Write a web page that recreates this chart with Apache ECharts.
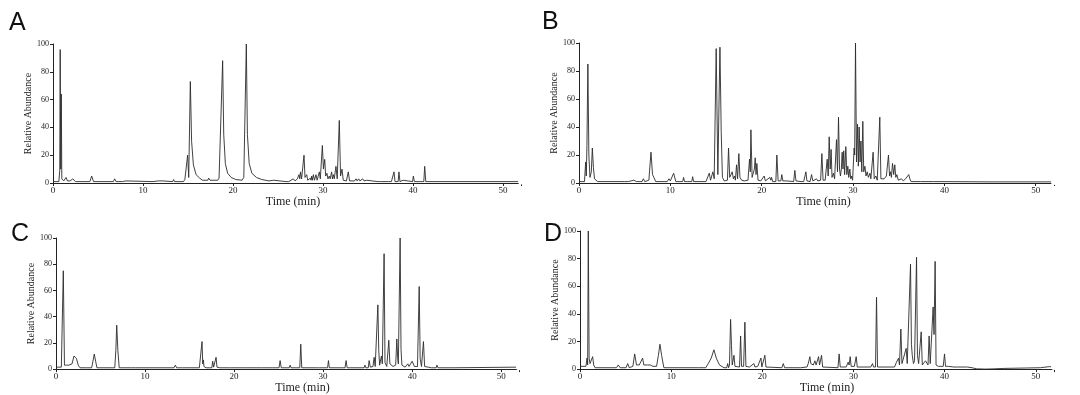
<!DOCTYPE html>
<html>
<head>
<meta charset="utf-8">
<script src="https://cdn.jsdelivr.net/npm/echarts@6/dist/echarts.min.js"></script>
<style>
html,body{margin:0;padding:0;background:#fff;}
#chart{width:1080px;height:395px;}
</style>
</head>
<body>
<div id="chart"></div>
<script>
// Panel labels and axis texts
const panelLabels = ['A', 'B', 'C', 'D'];
const xTitle = 'Time (min)';
const yTitle = 'Relative Abundance';

// Chromatogram traces: [time (min), relative abundance]
const traceA = [
[0,1],[0.65,1],[0.75,9],[0.8,96],[0.86,10],[0.92,64],[0.98,3],[1.2,1.5],[1.45,4],[1.6,1.5],[1.9,1.5],[2.2,3],[2.5,1],
[4.1,1],[4.3,5],[4.5,1],[6.7,1],[6.85,3],[7.0,1],[7.7,1],[7.8,1.8],[7.9,1],[8.1,1.5],[8.2,1],
[11.1,1],[11.2,1.5],[11.3,1],[11.7,1.5],[11.8,1],[12.2,1.5],[12.3,1],[13.3,1],[13.4,2.5],[13.5,1],
[14.5,1],[14.65,2.5],[14.8,2],[14.96,20],[15.08,4],[15.26,73],[15.4,30],[15.6,13],[15.9,6],[16.3,3.5],[16.6,2],
[17.2,2],[17.3,3.5],[17.45,2],[18.3,2],[18.45,3.5],[18.6,2.5],
[18.85,88],[18.97,35],[19.15,14],[19.4,7],[19.8,4],[20.3,2.5],[21.0,2],[21.2,4],[21.35,3],
[21.48,100],[21.6,35],[21.8,14],[22.1,7],[22.6,4],[23.2,2.5],[24,1.5],
[24.5,2],[24.7,1],[25.9,1],[26.0,2],[26.2,1],[26.7,3],[26.9,1.5],[27.15,3],[27.33,6],[27.42,3],[27.5,8],[27.62,3],
[27.89,20],[28.0,4],[28.19,6],[28.3,2],[28.5,2],[28.6,3.5],[28.68,2],[28.74,5],[28.83,2],[28.93,6],[29.05,2],
[29.22,6],[29.35,2],[29.59,8],[29.7,3],[29.93,27],[30.05,10],[30.19,17],[30.3,5],[30.44,7],[30.55,3],[30.7,5],
[30.8,3],[30.96,8],[31.05,3],[31.15,6],[31.25,3],[31.44,12],[31.58,3],[31.81,45],[31.95,5],[32.11,10],[32.25,2],
[32.6,1.5],[32.81,8],[32.95,1.5],[33.5,1.5],[33.67,3],[33.8,1.5],[33.96,3],[34.1,1.5],[34.3,1.5],[34.41,3],
[34.55,1.5],[34.85,2],[35,1],[36.1,1],[36.26,2],[36.4,1],[37.3,1],[37.44,2],[37.6,1],[37.8,1],[37.89,8],[38.0,1],
[38.35,1],[38.44,8],[38.55,1],[38.9,2],[39.0,1],[39.95,1],[40.04,5],[40.15,1],[41.2,1],[41.3,12],[41.42,1],[52,1]
];

const traceB = [
[0,1],[0.6,1],[0.73,15],[0.8,5],[0.87,27],[0.97,85],[1.08,20],[1.2,4],[1.35,8],[1.46,25],[1.58,11],[1.7,3],[1.9,2.5],[2.05,1],
[5.0,1],[5.2,1.8],[5.4,1],[5.7,1.5],[6.0,2],[6.3,1],[6.9,1],[7.05,3],[7.2,1],[7.65,2],[7.88,22],[8.05,6],[8.2,4],[8.4,1],
[9.3,1],[9.5,2],[9.65,1],[9.85,3],[10.0,1.5],[10.36,7],[10.6,1],[11.35,1],[11.45,4],[11.55,1],[11.85,1],[11.95,2],
[12.05,1],[12.35,1],[12.44,4.5],[12.55,1],
[13.9,1],[14.26,7],[14.4,2],[14.66,8],[14.8,3],[15.02,96],[15.2,6],[15.43,97],[15.57,36],[15.7,4],[15.9,1.5],
[16.25,2],[16.37,25],[16.5,4],[16.67,3],[16.77,8],[16.9,3],[17.03,5],[17.12,2],[17.25,13],[17.36,3],[17.5,21],
[17.62,4],[17.8,2],[18.1,1.5],[18.3,2],[18.5,2],[18.67,17],[18.75,8],[18.82,38],[18.95,4],[19.1,4],[19.2,10],
[19.29,18],[19.38,6],[19.47,14],[19.6,2],[19.9,1.5],[20.1,2],[20.27,5],[20.4,1.5],[20.6,1.5],[20.9,4],[21.0,2],
[21.08,4],[21.2,1],[21.55,1],[21.66,20],[21.8,1.5],[22.1,1.5],[22.2,6],[22.32,1.5],[22.7,1.5],[23.5,1],[23.63,9],
[23.75,1.5],[24.3,1],[24.5,2],[24.6,1],[24.84,8],[24.95,1.5],[25.3,1],[25.46,6],[25.6,1.5],[26.0,3],[26.15,1.5],
[26.45,2],[26.59,21],[26.72,2],[26.95,2],[27.17,17],[27.28,5],[27.39,33],[27.5,10],[27.6,24],[27.7,4],[27.85,7],
[27.98,3],[28.19,31],[28.3,8],[28.41,47],[28.52,10],[28.62,5],[28.72,10],[28.81,22],[28.9,10],[28.98,23],[29.08,6],
[29.21,26],[29.32,6],[29.43,12],[29.53,4],[29.65,10],[29.75,3],[29.85,5],[29.95,2],[30.12,25],[30.18,20],
[30.27,100],[30.38,15],[30.49,42],[30.58,12],[30.67,40],[30.77,15],[30.86,30],[30.96,8],[31.07,44],[31.17,8],
[31.3,12],[31.42,5],[31.55,8],[31.68,4],[31.85,7],[31.95,3],[32.05,3],[32.2,22],[32.32,3],[32.5,5],[32.65,2],
[32.93,47],[33.05,3],[33.4,3],[33.65,5],[33.88,20],[34.0,5],[34.1,8],[34.2,4],[34.32,14],[34.45,6],[34.57,13],
[34.68,4],[34.8,6],[34.95,2],[35.3,3],[35.5,1.5],[35.75,3],[35.9,2],[36.1,6],[36.22,3],[36.35,1],[37.4,1],
[37.5,2],[37.6,1],[38.8,1],[38.9,2],[39.0,1],[39.4,1],[39.5,1.8],[39.6,1],[45,0.8],[52,0.8]
];

const traceC = [
[0,1.5],[0.6,1.5],[0.72,3],[0.82,75],[0.95,3],[1.2,3],[1.3,1.5],[1.45,3],[1.6,2],[1.8,4],[2.02,10],[2.3,8],[2.5,3],
[2.7,1],[3.4,1],[3.5,2],[3.6,1],[4.0,1],[4.15,6],[4.3,11.5],[4.45,6],[4.6,1],
[6.6,1],[6.72,14],[6.82,33.5],[6.95,14],[7.1,1],[8.5,1],[8.7,2.5],[8.9,1],[13.25,1],[13.4,3],[13.55,1],
[14.2,1],[14.3,2],[14.4,1],[14.6,1],[14.7,2],[14.8,1],[16.1,1],[16.2,2],[16.3,1],[16.4,21],[16.48,4],[16.55,7],
[16.62,2],[16.75,3],[16.85,1],[17.5,1],[17.6,6],[17.7,1.5],[17.9,1.5],[17.98,9],[18.08,1.5],[18.4,1],[18.5,2],
[18.6,1],[19.6,1],[19.7,1.5],[19.8,1],[20.0,1],[20.1,1.5],[20.2,1],[21.1,1],[21.2,2],[21.3,1],[23.1,1],[23.2,2.5],
[23.3,1],[25.05,1],[25.17,6.5],[25.3,1],[26.2,1],[26.3,3],[26.4,1],[27.38,1],[27.49,19],[27.6,1],[28.3,1],[28.4,2],
[28.5,1],[29.35,1],[29.47,2],[29.6,1],[30.5,1],[30.6,6.5],[30.7,1],[31.8,1],[31.9,2],[32.0,1],[32.46,1],[32.58,6.5],
[32.7,1],[32.9,2],[33.0,1],[34.6,1],[34.7,3],[34.8,1],[35.07,1],[35.17,6.5],[35.3,1.5],[35.6,2],[35.73,9],[35.85,2],
[36.05,3],[36.15,49],[36.25,14],[36.35,3],[36.55,10],[36.65,4],[36.85,88],[36.95,5],[37.15,2],[37.38,22],[37.5,4],
[37.7,5],[37.85,2],[38.0,3],[38.15,3],[38.28,23],[38.38,8],[38.45,4],[38.65,100],[38.75,15],[38.85,3],[39.2,1.5],
[39.51,4],[39.65,2],[39.85,3],[40.0,6],[40.1,5],[40.25,2],[40.6,2],[40.79,63],[40.9,8],[41.05,2],[41.27,21],
[41.4,2],[41.8,1.5],[42.0,2],[42.15,1],[42.7,1],[42.78,3],[42.9,1],[43.8,1],[43.9,2],[44.0,1],[44.6,1],[44.68,1.5],
[44.8,1],[52,1.5]
];

const traceD = [
[0,2],[0.65,2],[0.77,8],[0.84,3],[0.91,100],[1.0,8],[1.1,4],[1.25,3],[1.39,9],[1.5,3],[1.65,1],[4.0,1],[4.2,3],
[4.4,1],[5.05,1],[5.23,4],[5.4,1],[5.8,2],[6.0,11],[6.2,3],[6.5,3],[6.7,4],[6.87,8],[7.0,3],[7.4,3],[7.7,3],
[7.86,4],[8.0,2],[8.4,2],[8.6,10],[8.77,18],[8.95,10],[9.2,1],[12.6,1],[12.8,1.5],[13.0,1],[13.8,1],[14.07,4],
[14.18,5],[14.4,8],[14.69,14],[14.95,8],[15.3,3],[15.8,1],[16.1,1],[16.2,4],[16.3,1],[16.4,3],[16.52,36],
[16.62,17],[16.7,3],[16.8,2],[16.89,10],[17.0,2],[17.5,1.5],[17.62,24],[17.72,2],[17.95,2],[18.09,34],[18.2,2],
[18.6,1.5],[19.08,4],[19.2,1.5],[19.5,2],[19.6,1],[19.85,8],[19.95,1.5],[20.1,1.5],[20.28,10],[20.4,1.5],
[22.15,1],[22.3,4],[22.45,1],[24.2,1],[24.9,1.5],[25.04,4],[25.12,3],[25.22,9],[25.32,4],[25.5,5],[25.6,3],
[25.77,6],[25.9,3],[26.17,9],[26.28,3],[26.5,10],[26.62,1.5],[28.3,1],[28.43,11],[28.55,1.5],[29.2,1.5],
[29.42,5],[29.52,3],[29.64,9],[29.75,2],[30.1,2],[30.3,9],[30.42,1.5],[31.9,1.5],[32.09,4],[32.2,1.5],[32.42,1.5],
[32.53,52],[32.64,1.5],[34.5,1.5],[34.72,5],[34.82,4],[34.95,8],[35.05,3],[35.2,29],[35.32,4],[35.5,3],[35.78,15],
[35.9,4],[36.1,4],[36.26,76],[36.36,18],[36.45,10],[36.58,4],[36.7,6],[36.92,81],[37.02,10],[37.15,4],[37.3,3],
[37.43,27],[37.55,3],[37.75,4],[37.9,6],[38.0,5],[38.1,6],[38.18,3],[38.3,24],[38.42,4],[38.55,4],[38.74,45],
[38.84,25],[38.96,78],[39.06,3],[39.3,2],[39.45,3],[39.6,2],[39.75,3],[39.85,2],[39.99,11],[40.1,2],[40.4,2],
[40.6,1.5],[41.0,1.5],[41.2,2],[41.4,1.5],[42.5,1.5],[43.0,1],[43.5,0.2],[44.5,0],[45.5,0.2],[46.5,0.5],[49,0.8],
[50.5,1],[51.5,1.8],[52,1.5]
];

const traces = [traceA, traceB, traceC, traceD];
const xTicks = [0, 10, 20, 30, 40, 50];
const xMax = 52;
const yTicks = [0, 20, 40, 60, 80, 100];

// Layout (pixels)
const grids = [
  {left: 53, top: 44, width: 468, height: 139},
  {left: 579, top: 43, width: 475, height: 140},
  {left: 56, top: 238, width: 463, height: 134},
  {left: 580, top: 231, width: 474, height: 140}
];
const labelPos = [[9, 11], [542, 10], [11, 222], [544, 222]];
const titleShift = [12, 14, 30, 20];
const titleGap = [7, 8, 10, 9];

const serif = '"Liberation Serif", "DejaVu Serif", serif';
const ink = '#222';

const chart = echarts.init(document.getElementById('chart'), null, {renderer: 'canvas'});
const option = {
  animation: false,
  backgroundColor: '#fff',
  grid: grids.map(g => Object.assign({containLabel: false}, g)),
  xAxis: grids.map((g, i) => ({
    gridIndex: i, type: 'value', min: 0, max: xMax, interval: 10,
    name: xTitle, nameLocation: 'middle', nameGap: titleGap[i],
    nameTextStyle: {fontFamily: serif, fontSize: 12, color: ink, verticalAlign: 'top', padding: [0, 0, 0, titleShift[i]]},
    axisLine: {show: true, lineStyle: {color: ink, width: 1}},
    axisTick: {show: true, length: 3, lineStyle: {color: ink}},
    axisLabel: {fontFamily: serif, fontSize: 9, color: ink, margin: 3,
      formatter: v => xTicks.includes(v) ? String(v) : ''},
    splitLine: {show: false}
  })),
  yAxis: grids.map((g, i) => ({
    gridIndex: i, type: 'value', min: yTicks[0], max: yTicks[yTicks.length - 1], interval: 20,
    name: yTitle, nameLocation: 'middle', nameGap: 17,
    nameTextStyle: {fontFamily: serif, fontSize: 10, color: ink},
    axisLine: {show: true, lineStyle: {color: ink, width: 1}},
    axisTick: {show: true, length: 3, lineStyle: {color: ink}},
    axisLabel: {fontFamily: serif, fontSize: 8, color: ink, margin: 4},
    splitLine: {show: false}
  })),
  series: traces.map((t, i) => ({
    type: 'line', xAxisIndex: i, yAxisIndex: i, data: t,
    showSymbol: false, symbol: 'none', sampling: null, clip: false,
    lineStyle: {color: '#2b2b2b', width: 0.9},
    silent: true,
    markPoint: {
      silent: true, symbol: 'emptyCircle', symbolSize: 4,
      itemStyle: {color: '#fff', borderColor: '#333', borderWidth: 0.8},
      label: {show: false},
      data: [{coord: t[t.length - 1]}]
    }
  })),
  graphic: panelLabels.map((s, i) => ({
    type: 'text', left: labelPos[i][0], top: labelPos[i][1],
    style: {text: s, font: '25px "Liberation Sans", Arial, sans-serif', fill: '#111'}
  }))
};
chart.setOption(option);
</script>
</body>
</html>
